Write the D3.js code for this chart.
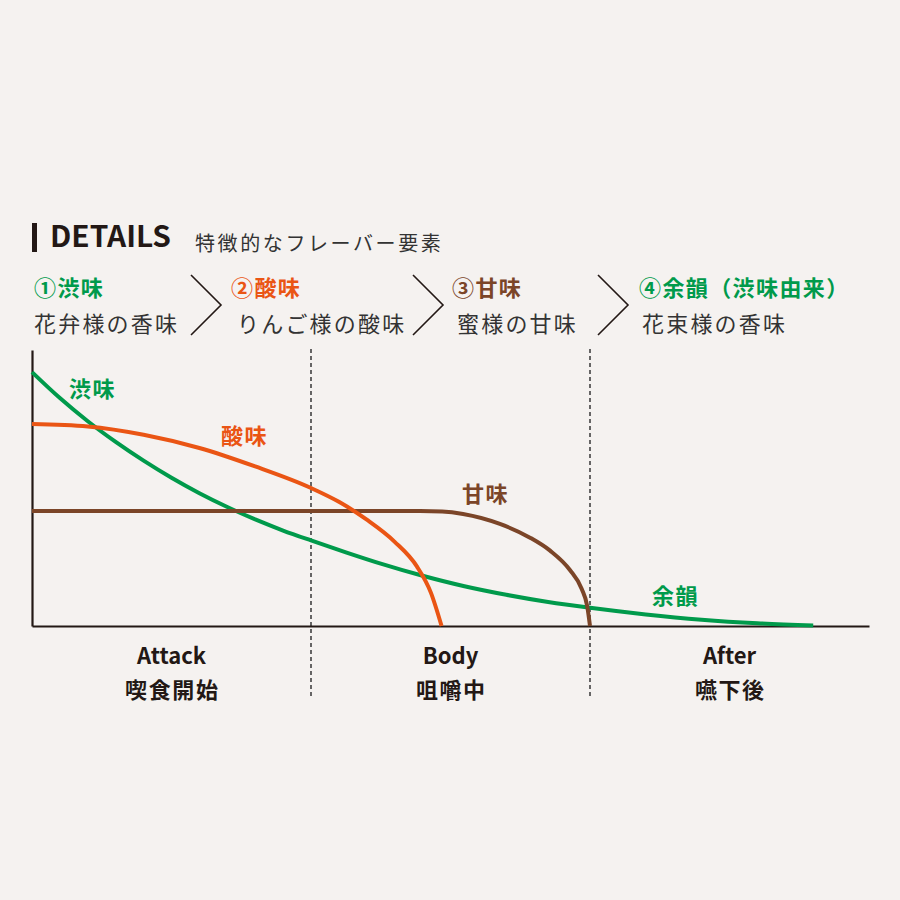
<!DOCTYPE html>
<html><head><meta charset="utf-8">
<script src="https://cdn.jsdelivr.net/npm/d3@7/dist/d3.min.js"></script>
<style>html,body{margin:0;padding:0;background:#f5f2f0}</style>
</head><body><svg id="c" width="900" height="900"></svg>
<script>
// ---------- data ----------
const stepTitles = ["①渋味", "②酸味", "③甘味", "④余韻（渋味由来）"];
const stepDescs = ["花弁様の香味", "りんご様の酸味", "蜜様の甘味", "花束様の香味"];
const phaseNames = ["Attack", "Body", "After"];
const phaseNamesJa = ["喫食開始", "咀嚼中", "嚥下後"];
const seriesLabels = ["渋味", "酸味", "甘味", "余韻"];

// x in phase units (0..3), y in relative intensity (0..100)
const astringencyX = [0, 0.1, 0.2, 0.3, 0.4, 0.5, 0.6, 0.7, 0.8, 0.9, 1.0, 1.125, 1.25, 1.4, 1.55, 1.7, 1.85, 2.0, 2.2, 2.4, 2.6, 2.8];
const astringencyY = [92, 82.6, 74.2, 66.7, 59.9, 53.7, 48.1, 43.1, 38.6, 34.6, 31.0, 26.7, 22.6, 18.2, 14.4, 11.3, 8.7, 6.6, 4.2, 2.3, 1.0, 0.2];
const acidityX = [0, 0.2, 0.4, 0.6, 0.8, 1.0, 1.1, 1.2, 1.3, 1.38, 1.43, 1.468];
const acidityY = [73.2, 72.3, 69.3, 64.5, 57.8, 50, 45, 38.5, 30.5, 21.5, 12, 0];
const sweetnessX = [0, 1.391, 1.47, 1.545, 1.677, 1.785, 1.857, 1.928, 1.97, 1.99, 2.0];
const sweetnessY = [41.7, 41.7, 41.5, 40.6, 37.0, 32.0, 27.3, 20.3, 13.5, 7.2, 0];

// ---------- style ----------
const C = {bg:"#f5f2f0", ink:"#231815", text:"#333333", green:"#009a4b", orange:"#ea5514", brown:"#7b4528"};
const stepColors = [C.green, C.orange, C.brown, C.green];
const FONT = "'Noto Sans CJK JP','Noto Sans',sans-serif";

const svg = d3.select("#c");
svg.append("rect").attr("width",900).attr("height",900).attr("fill",C.bg);

const x = d3.scaleLinear().domain([0,3]).range([32,869]);
const y = d3.scaleLinear().domain([0,100]).range([626,350]);

// ---------- header ----------
svg.append("rect").attr("x",32).attr("y",223).attr("width",5).attr("height",29).attr("fill",C.ink);
svg.append("text").attr("x",50).attr("y",247).text("DETAILS")
  .attr("font-family",FONT).attr("font-weight",700).attr("font-size",29).attr("fill",C.ink)
  .attr("textLength",121).attr("lengthAdjust","spacingAndGlyphs");
svg.append("text").attr("x",195).attr("y",242).attr("dominant-baseline","central").text("特徴的なフレーバー要素")
  .attr("font-family",FONT).attr("font-size",20).attr("fill",C.text).style("letter-spacing","2.6px");

const titleX = [34, 231, 452, 639];
const descX = [34, 237, 457, 642];
stepTitles.forEach((t,i)=>{
  svg.append("text").attr("x",titleX[i]).attr("y",286).attr("dominant-baseline","central").text(t)
    .attr("font-family",FONT).attr("font-weight",700).attr("font-size",22).attr("fill",stepColors[i])
    .style("letter-spacing","1.4px");
  svg.append("text").attr("x",descX[i]).attr("y",322).attr("dominant-baseline","central").text(stepDescs[i])
    .attr("font-family",FONT).attr("font-size",22).attr("fill",C.text).style("letter-spacing","2.2px");
});
// chevrons between steps
const chevX = [191, 413, 598];
chevX.forEach(cx=>{
  svg.append("path").attr("d",`M${cx},275 L${cx+30},305 L${cx},335`)
    .attr("fill","none").attr("stroke",C.ink).attr("stroke-width",1.6);
});

// ---------- phase separators ----------
[1,2].forEach(p=>{
  svg.append("line").attr("x1",x(p)).attr("x2",x(p)).attr("y1",349).attr("y2",698)
    .attr("stroke","#2a2a2a").attr("stroke-width",1.4).attr("stroke-dasharray","4,3");
});

// ---------- axes ----------
svg.append("g").attr("transform",`translate(0,${y(0)})`)
  .call(d3.axisBottom(x).ticks(0).tickSizeOuter(0))
  .call(g=>g.select(".domain").attr("stroke",C.ink).attr("stroke-width",2));
svg.append("g").attr("transform",`translate(${x(0)},0)`)
  .call(d3.axisLeft(y).ticks(0).tickSizeOuter(0))
  .call(g=>g.select(".domain").attr("stroke",C.ink).attr("stroke-width",2.2));

// ---------- curves ----------
const line = d3.line().x(d=>x(d[0])).y(d=>y(d[1])).curve(d3.curveMonotoneX);
const series = [
  {xs:astringencyX, ys:astringencyY, color:C.green},
  {xs:sweetnessX, ys:sweetnessY, color:C.brown},
  {xs:acidityX, ys:acidityY, color:C.orange}
];
series.forEach(s=>{
  svg.append("path").datum(s.xs.map((v,i)=>[v,s.ys[i]]))
    .attr("d",line).attr("fill","none").attr("stroke",s.color)
    .attr("stroke-width",4).attr("stroke-linecap","butt");
});

// ---------- series labels ----------
const labelPos = [[69,387,C.green],[221,434,C.orange],[462,492,C.brown],[652,594,C.green]];
seriesLabels.forEach((t,i)=>{
  svg.append("text").attr("x",labelPos[i][0]).attr("y",labelPos[i][1]).attr("dominant-baseline","central")
    .text(t).attr("font-family",FONT).attr("font-weight",700).attr("font-size",22)
    .attr("fill",labelPos[i][2]).style("letter-spacing","1.5px");
});

// ---------- phase labels ----------
phaseNames.forEach((t,i)=>{
  const cx = x(i+0.5);
  svg.append("text").attr("x",cx).attr("y",664).attr("text-anchor","middle").text(t)
    .attr("font-family",FONT).attr("font-weight",700).attr("font-size",22).attr("fill",C.ink);
  svg.append("text").attr("x",cx+0.8).attr("y",688).attr("text-anchor","middle").attr("dominant-baseline","central")
    .text(phaseNamesJa[i]).attr("font-family",FONT).attr("font-weight",700).attr("font-size",22)
    .attr("fill",C.ink).style("letter-spacing","1.6px");
});
</script></body></html>
